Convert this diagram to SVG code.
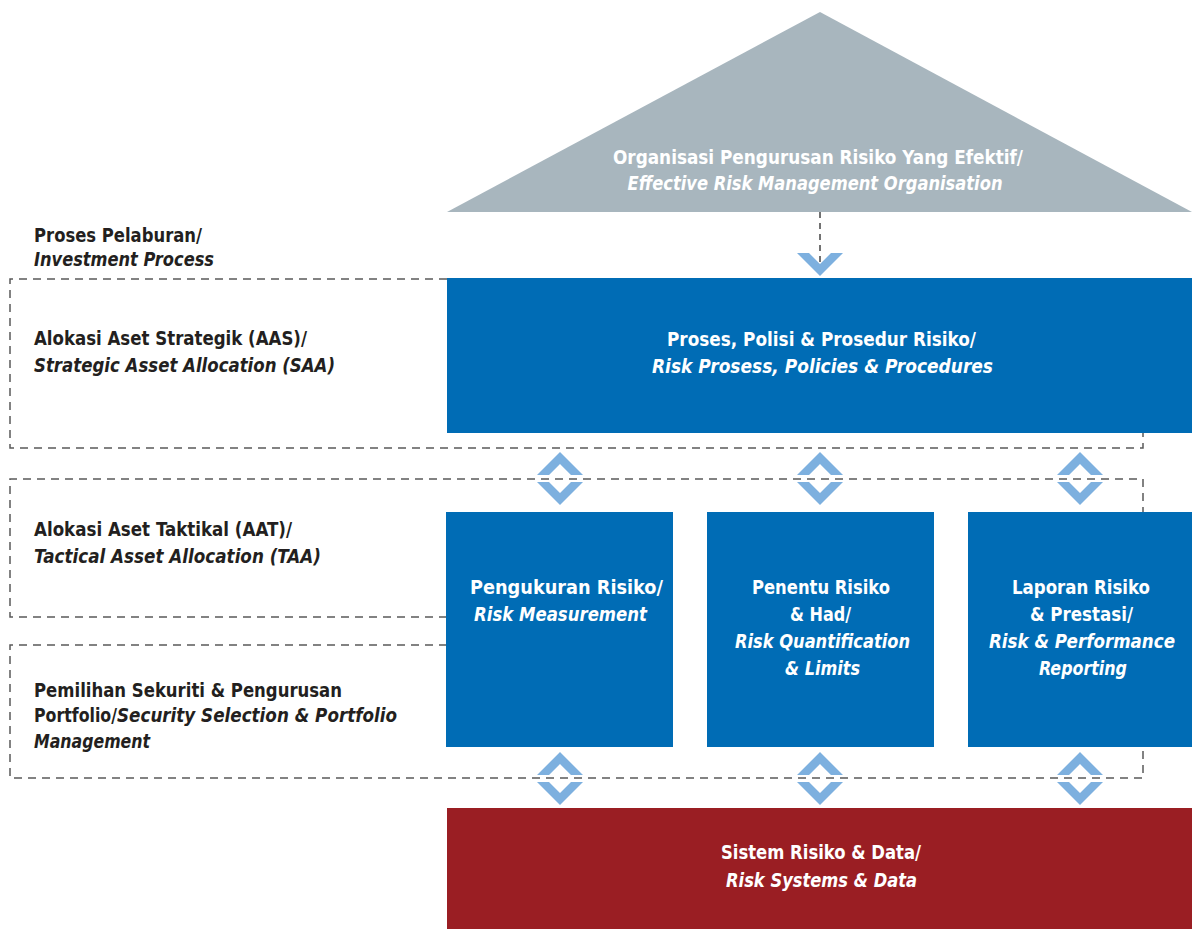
<svg xmlns="http://www.w3.org/2000/svg" width="1192" height="929" viewBox="0 0 1192 929">
<defs>
<style>
.t{font-family:"Liberation Sans Narrow","DejaVu Sans Condensed","Liberation Sans",Arial,sans-serif;font-weight:bold;font-size:19.5px;font-stretch:condensed}
.i{font-style:italic}
.w{fill:#ffffff}
.d{fill:#231f20}
.c{text-anchor:middle}
.dash{fill:none;stroke:#5a5a5a;stroke-width:1.5;stroke-dasharray:8 6}
.vdash{fill:none;stroke:#444;stroke-width:1.5;stroke-dasharray:6 5}
.chev{fill:#7db0df}
</style>
<path id="up" d="M-23,0 L0,-23 L23,0 L11,0 L0,-11 L-11,0 Z"/>
<path id="down" d="M-23,0 L0,23 L23,0 L11,0 L0,11 L-11,0 Z"/>
</defs>
<rect width="1192" height="929" fill="#ffffff"/>

<g id="bands">
<path class="dash" d="M447,279 H10 V448 H1143 V433"/>
<path class="dash" d="M447,617 H10 V479 H1143 V512"/>
<path class="dash" d="M447,645 H10 V778 H1143 V747"/>
</g>

<g id="organisation">
<polygon points="820,12 1192,212 447,212" fill="#a8b6be"/>
<text class="t w c" x="818" y="164" textLength="410" lengthAdjust="spacingAndGlyphs">Organisasi Pengurusan Risiko Yang Efektif/</text>
<text class="t w c i" x="815" y="190" textLength="375" lengthAdjust="spacingAndGlyphs">Effective Risk Management Organisation</text>
</g>

<g id="policies">
<rect x="447" y="278" width="745" height="155" fill="#006cb5"/>
<text class="t w c" x="821.5" y="346" textLength="309" lengthAdjust="spacingAndGlyphs">Proses, Polisi &amp; Prosedur Risiko/</text>
<text class="t w c i" x="822.5" y="373" textLength="341" lengthAdjust="spacingAndGlyphs">Risk Prosess, Policies &amp; Procedures</text>
</g>

<g id="measurement">
<rect x="446" y="512" width="227" height="235" fill="#006cb5"/>
<text class="t w c" x="566.5" y="594" textLength="193" lengthAdjust="spacingAndGlyphs">Pengukuran Risiko/</text>
<text class="t w c i" x="560.5" y="621" textLength="173" lengthAdjust="spacingAndGlyphs">Risk Measurement</text>
</g>

<g id="quantification">
<rect x="707" y="512" width="227" height="235" fill="#006cb5"/>
<text class="t w c" x="821" y="594" textLength="138" lengthAdjust="spacingAndGlyphs">Penentu Risiko</text>
<text class="t w c" x="820.5" y="621" textLength="61" lengthAdjust="spacingAndGlyphs">&amp; Had/</text>
<text class="t w c i" x="822.5" y="648" textLength="175" lengthAdjust="spacingAndGlyphs">Risk Quantification</text>
<text class="t w c i" x="822.5" y="675" textLength="75" lengthAdjust="spacingAndGlyphs">&amp; Limits</text>
</g>

<g id="reporting">
<rect x="968" y="512" width="224" height="235" fill="#006cb5"/>
<text class="t w c" x="1081" y="594" textLength="138" lengthAdjust="spacingAndGlyphs">Laporan Risiko</text>
<text class="t w c" x="1081.5" y="621" textLength="103" lengthAdjust="spacingAndGlyphs">&amp; Prestasi/</text>
<text class="t w c i" x="1082" y="648" textLength="186" lengthAdjust="spacingAndGlyphs">Risk &amp; Performance</text>
<text class="t w c i" x="1083" y="675" textLength="88" lengthAdjust="spacingAndGlyphs">Reporting</text>
</g>

<g id="systems">
<rect x="447" y="808" width="745" height="121" fill="#9a1e23"/>
<text class="t w c" x="821" y="859" textLength="200" lengthAdjust="spacingAndGlyphs">Sistem Risiko &amp; Data/</text>
<text class="t w c i" x="821.5" y="887" textLength="191" lengthAdjust="spacingAndGlyphs">Risk Systems &amp; Data</text>
</g>

<g id="labels">
<text class="t d" x="34" y="242" textLength="168" lengthAdjust="spacingAndGlyphs">Proses Pelaburan/</text>
<text class="t d i" x="34" y="266" textLength="180" lengthAdjust="spacingAndGlyphs">Investment Process</text>
<text class="t d" x="34" y="345" textLength="273" lengthAdjust="spacingAndGlyphs">Alokasi Aset Strategik (AAS)/</text>
<text class="t d i" x="34" y="372" textLength="301" lengthAdjust="spacingAndGlyphs">Strategic Asset Allocation (SAA)</text>
<text class="t d" x="34" y="536" textLength="258" lengthAdjust="spacingAndGlyphs">Alokasi Aset Taktikal (AAT)/</text>
<text class="t d i" x="34" y="563" textLength="287" lengthAdjust="spacingAndGlyphs">Tactical Asset Allocation (TAA)</text>
<text class="t d" x="34" y="697" textLength="308" lengthAdjust="spacingAndGlyphs">Pemilihan Sekuriti &amp; Pengurusan</text>
<text class="t d" x="34" y="722" textLength="83" lengthAdjust="spacingAndGlyphs">Portfolio/</text>
<text class="t d i" x="117" y="722" textLength="280" lengthAdjust="spacingAndGlyphs">Security Selection &amp; Portfolio</text>
<text class="t d i" x="34" y="748" textLength="116" lengthAdjust="spacingAndGlyphs">Management</text>
</g>

<g id="connectors">
<use href="#down" class="chev" x="820" y="253"/>
<path class="vdash" d="M820,212 V266"/>
<use href="#up" class="chev" x="560" y="475"/>
<use href="#down" class="chev" x="560" y="482"/>
<use href="#up" class="chev" x="820" y="475"/>
<use href="#down" class="chev" x="820" y="482"/>
<use href="#up" class="chev" x="1080" y="475"/>
<use href="#down" class="chev" x="1080" y="482"/>
<use href="#up" class="chev" x="560" y="775"/>
<use href="#down" class="chev" x="560" y="782"/>
<use href="#up" class="chev" x="820" y="775"/>
<use href="#down" class="chev" x="820" y="782"/>
<use href="#up" class="chev" x="1080" y="775"/>
<use href="#down" class="chev" x="1080" y="782"/>
</g>
</svg>
